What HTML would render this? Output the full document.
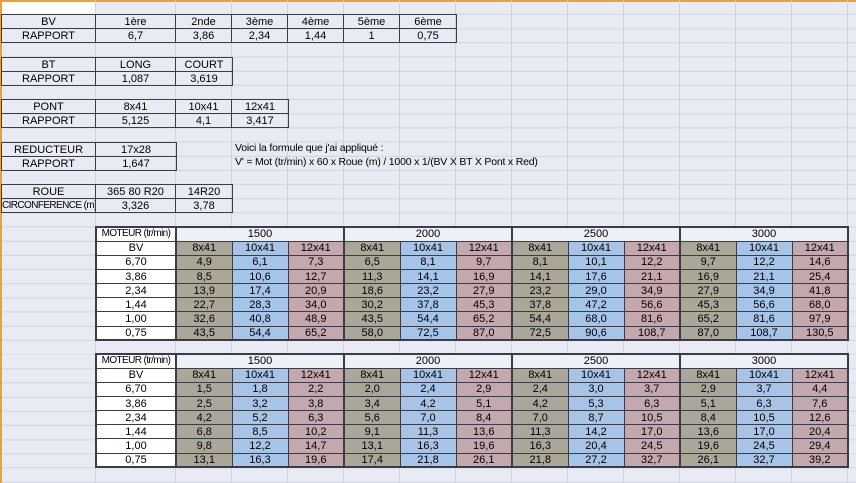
<!DOCTYPE html>
<html><head><meta charset="utf-8"><style>
*{margin:0;padding:0;box-sizing:border-box}
html,body{width:856px;height:483px;overflow:hidden}
body{position:relative;background-color:#e8ebf4;font-family:"Liberation Sans",sans-serif;font-size:11px;color:#000;
background-image:repeating-linear-gradient(to bottom,transparent 0,transparent 13.17px,#d0d4df 13.17px,#d0d4df 14.17px);background-position:0 0.83px}
.v{position:absolute;top:0;width:1px;height:483px;background:#d0d4df}
table{position:absolute;border-collapse:collapse;table-layout:fixed}
td{border:1px solid #3c3c48;height:14.17px;line-height:12px;text-align:center;white-space:nowrap;overflow:hidden;padding:0;font-size:11px}
.big{border:2px solid #3c3c48}
.big td{height:14.17px}
.w{background:#fff}
.h{background:#eef0f8}
.k{background:#aaa798}
.b{background:#a6c3e8}
.p{background:#c4a8ae}
.g{border-left:2px solid #3c3c48}
.m{font-size:10px;letter-spacing:-0.6px}
.t{position:absolute;font-size:10.5px;white-space:nowrap;letter-spacing:-0.2px}
</style></head><body>
<div style="position:absolute;left:0;top:0;width:856px;height:2px;background:#f0a030"></div>
<div style="position:absolute;left:0;top:0;width:2px;height:483px;background:#f0a030"></div>
<div style="position:absolute;left:2px;top:2px;width:93px;height:12px;background:#fff"></div>
<div class="v" style="left:95px"></div><div class="v" style="left:175px"></div><div class="v" style="left:231px"></div><div class="v" style="left:287px"></div><div class="v" style="left:343px"></div><div class="v" style="left:399px"></div><div class="v" style="left:455px"></div><div class="v" style="left:511px"></div><div class="v" style="left:567px"></div><div class="v" style="left:623px"></div><div class="v" style="left:679px"></div><div class="v" style="left:735px"></div><div class="v" style="left:791px"></div><div class="v" style="left:847px"></div>

<table style="left:1px;top:14px;width:455px"><colgroup><col style="width:94px"><col style="width:80px"><col style="width:56px"><col style="width:56px"><col style="width:56px"><col style="width:56px"><col style="width:57px"></colgroup>
<tr><td>BV</td><td>1ère</td><td>2nde</td><td>3ème</td><td>4ème</td><td>5ème</td><td>6ème</td></tr>
<tr><td>RAPPORT</td><td>6,7</td><td>3,86</td><td>2,34</td><td>1,44</td><td>1</td><td>0,75</td></tr></table>

<table style="left:1px;top:57px;width:231px"><colgroup><col style="width:94px"><col style="width:80px"><col style="width:57px"></colgroup>
<tr><td>BT</td><td>LONG</td><td>COURT</td></tr><tr><td>RAPPORT</td><td>1,087</td><td>3,619</td></tr></table>

<table style="left:1px;top:99px;width:287px"><colgroup><col style="width:94px"><col style="width:80px"><col style="width:56px"><col style="width:57px"></colgroup>
<tr><td>PONT</td><td>8x41</td><td>10x41</td><td>12x41</td></tr><tr><td>RAPPORT</td><td>5,125</td><td>4,1</td><td>3,417</td></tr></table>

<table style="left:1px;top:142px;width:175px"><colgroup><col style="width:94px"><col style="width:81px"></colgroup>
<tr><td>REDUCTEUR</td><td>17x28</td></tr><tr><td>RAPPORT</td><td>1,647</td></tr></table>

<table style="left:1px;top:184px;width:231px"><colgroup><col style="width:94px"><col style="width:80px"><col style="width:57px"></colgroup>
<tr><td>ROUE</td><td>365 80 R20</td><td>14R20</td></tr><tr><td class="m" style="text-align:left">CIRCONFERENCE (m)</td><td>3,326</td><td>3,78</td></tr></table>

<div class="t" style="left:235px;top:142px">Voici la formule que j'ai appliqué :</div>
<div class="t" style="left:235px;top:156px">V' = Mot (tr/min) x 60 x Roue (m) / 1000 x 1/(BV X BT X Pont x Red)</div>

<table class="big" style="left:95px;top:226px;width:753px"><colgroup><col style="width:80px"><col span="12" style="width:56px"></colgroup>
<tr><td class="w m">MOTEUR (tr/min)</td><td class="h g" colspan="3">1500</td><td class="h g" colspan="3">2000</td><td class="h g" colspan="3">2500</td><td class="h g" colspan="3">3000</td></tr>
<tr><td class="w">BV</td><td class="k g">8x41</td><td class="b">10x41</td><td class="p">12x41</td><td class="k g">8x41</td><td class="b">10x41</td><td class="p">12x41</td><td class="k g">8x41</td><td class="b">10x41</td><td class="p">12x41</td><td class="k g">8x41</td><td class="b">10x41</td><td class="p">12x41</td></tr>
<tr><td class="w">6,70</td><td class="k g">4,9</td><td class="b">6,1</td><td class="p">7,3</td><td class="k g">6,5</td><td class="b">8,1</td><td class="p">9,7</td><td class="k g">8,1</td><td class="b">10,1</td><td class="p">12,2</td><td class="k g">9,7</td><td class="b">12,2</td><td class="p">14,6</td></tr>
<tr><td class="w">3,86</td><td class="k g">8,5</td><td class="b">10,6</td><td class="p">12,7</td><td class="k g">11,3</td><td class="b">14,1</td><td class="p">16,9</td><td class="k g">14,1</td><td class="b">17,6</td><td class="p">21,1</td><td class="k g">16,9</td><td class="b">21,1</td><td class="p">25,4</td></tr>
<tr><td class="w">2,34</td><td class="k g">13,9</td><td class="b">17,4</td><td class="p">20,9</td><td class="k g">18,6</td><td class="b">23,2</td><td class="p">27,9</td><td class="k g">23,2</td><td class="b">29,0</td><td class="p">34,9</td><td class="k g">27,9</td><td class="b">34,9</td><td class="p">41,8</td></tr>
<tr><td class="w">1,44</td><td class="k g">22,7</td><td class="b">28,3</td><td class="p">34,0</td><td class="k g">30,2</td><td class="b">37,8</td><td class="p">45,3</td><td class="k g">37,8</td><td class="b">47,2</td><td class="p">56,6</td><td class="k g">45,3</td><td class="b">56,6</td><td class="p">68,0</td></tr>
<tr><td class="w">1,00</td><td class="k g">32,6</td><td class="b">40,8</td><td class="p">48,9</td><td class="k g">43,5</td><td class="b">54,4</td><td class="p">65,2</td><td class="k g">54,4</td><td class="b">68,0</td><td class="p">81,6</td><td class="k g">65,2</td><td class="b">81,6</td><td class="p">97,9</td></tr>
<tr><td class="w">0,75</td><td class="k g">43,5</td><td class="b">54,4</td><td class="p">65,2</td><td class="k g">58,0</td><td class="b">72,5</td><td class="p">87,0</td><td class="k g">72,5</td><td class="b">90,6</td><td class="p">108,7</td><td class="k g">87,0</td><td class="b">108,7</td><td class="p">130,5</td></tr>
</table>

<table class="big" style="left:95px;top:353px;width:753px"><colgroup><col style="width:80px"><col span="12" style="width:56px"></colgroup>
<tr><td class="w m">MOTEUR (tr/min)</td><td class="h g" colspan="3">1500</td><td class="h g" colspan="3">2000</td><td class="h g" colspan="3">2500</td><td class="h g" colspan="3">3000</td></tr>
<tr><td class="w">BV</td><td class="k g">8x41</td><td class="b">10x41</td><td class="p">12x41</td><td class="k g">8x41</td><td class="b">10x41</td><td class="p">12x41</td><td class="k g">8x41</td><td class="b">10x41</td><td class="p">12x41</td><td class="k g">8x41</td><td class="b">10x41</td><td class="p">12x41</td></tr>
<tr><td class="w">6,70</td><td class="k g">1,5</td><td class="b">1,8</td><td class="p">2,2</td><td class="k g">2,0</td><td class="b">2,4</td><td class="p">2,9</td><td class="k g">2,4</td><td class="b">3,0</td><td class="p">3,7</td><td class="k g">2,9</td><td class="b">3,7</td><td class="p">4,4</td></tr>
<tr><td class="w">3,86</td><td class="k g">2,5</td><td class="b">3,2</td><td class="p">3,8</td><td class="k g">3,4</td><td class="b">4,2</td><td class="p">5,1</td><td class="k g">4,2</td><td class="b">5,3</td><td class="p">6,3</td><td class="k g">5,1</td><td class="b">6,3</td><td class="p">7,6</td></tr>
<tr><td class="w">2,34</td><td class="k g">4,2</td><td class="b">5,2</td><td class="p">6,3</td><td class="k g">5,6</td><td class="b">7,0</td><td class="p">8,4</td><td class="k g">7,0</td><td class="b">8,7</td><td class="p">10,5</td><td class="k g">8,4</td><td class="b">10,5</td><td class="p">12,6</td></tr>
<tr><td class="w">1,44</td><td class="k g">6,8</td><td class="b">8,5</td><td class="p">10,2</td><td class="k g">9,1</td><td class="b">11,3</td><td class="p">13,6</td><td class="k g">11,3</td><td class="b">14,2</td><td class="p">17,0</td><td class="k g">13,6</td><td class="b">17,0</td><td class="p">20,4</td></tr>
<tr><td class="w">1,00</td><td class="k g">9,8</td><td class="b">12,2</td><td class="p">14,7</td><td class="k g">13,1</td><td class="b">16,3</td><td class="p">19,6</td><td class="k g">16,3</td><td class="b">20,4</td><td class="p">24,5</td><td class="k g">19,6</td><td class="b">24,5</td><td class="p">29,4</td></tr>
<tr><td class="w">0,75</td><td class="k g">13,1</td><td class="b">16,3</td><td class="p">19,6</td><td class="k g">17,4</td><td class="b">21,8</td><td class="p">26,1</td><td class="k g">21,8</td><td class="b">27,2</td><td class="p">32,7</td><td class="k g">26,1</td><td class="b">32,7</td><td class="p">39,2</td></tr>
</table>
</body></html>
